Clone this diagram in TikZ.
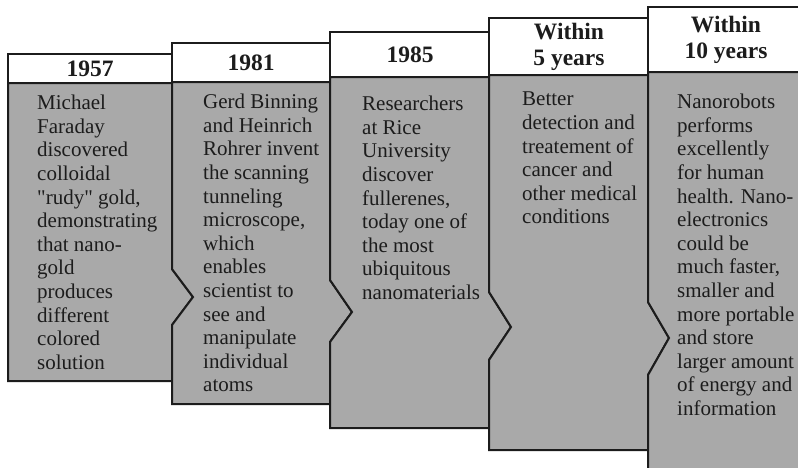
\documentclass[tikz,border=0pt]{standalone}
\usepackage{fontspec}
\setmainfont{Liberation Serif}[Ligatures=TeXOff]
\usepackage{tikz}
\usetikzlibrary{positioning}

\definecolor{boxgray}{HTML}{A9A9A9}
\definecolor{ink}{HTML}{1C1C1C}

\begin{document}
\begin{tikzpicture}[x=1pt, y=-1pt,
	col/.style={fill=boxgray, draw=ink, line width=2pt, line join=miter},
	head/.style={fill=white, draw=ink, line width=2pt},
	year/.style={font=\bfseries\fontsize{23.5}{26}\selectfont, text=ink, align=center, inner sep=0},
	txt/.style={font=\fontsize{21}{23.6}\selectfont, text=ink, align=left, inner sep=0, anchor=north west}]
	\useasboundingbox (0,0) rectangle (798,467);
	\clip (0,0) rectangle (798,467);
	% first column
	\draw[col] (8,83) -- (8,381) -- (172,381) -- (172,325) -- (193,297) -- (172,269) -- (172,83) -- cycle;
	\draw[head] (8,54) rectangle (172,83);
	% second column
	\draw[col] (172,82) -- (172,269) -- (193,297) -- (172,325) -- (172,404) -- (330,404)
		-- (330,342) -- (352,312) -- (330,280) -- (330,82) -- cycle;
	\draw[head] (172,43) rectangle (330,82);
	% third column
	\draw[col] (330,77) -- (330,280) -- (352,312) -- (330,342) -- (330,428) -- (489,428)
		-- (489,360) -- (511,327) -- (489,292) -- (489,77) -- cycle;
	\draw[head] (330,32) rectangle (489,77);
	% fourth column
	\draw[col] (489,75) -- (489,292) -- (511,327) -- (489,360) -- (489,450) -- (648,450)
		-- (648,375) -- (669,338) -- (648,302) -- (648,75) -- cycle;
	\draw[head] (489,18) rectangle (648,75);
	% last column runs off the page
	\draw[col] (648,72) -- (648,302) -- (669,338) -- (648,375) -- (648,480) -- (804,480)
		-- (804,72) -- cycle;
	\draw[head] (648,7) rectangle (804,72);

	\node[year] (h1) at (90,69) {1957};
	\node[year] (h2) at (251,63) {1981};
	\node[year] (h3) at (410,55) {1985};
	\node[year] (h4) at (569,47) {Within\\5 years};
	\node[year] (h5) at (726,40) {Within\\10 years};

	\node[txt] (t1) at (37,95) {Michael\\Faraday\\discovered\\colloidal\\"rudy" gold,\\demonstrating\\that nano-\\gold\\produces\\different\\colored\\solution};
	\node[txt] (t2) at (203,94) {Gerd Binning\\and Heinrich\\Rohrer invent\\the scanning\\tunneling\\microscope,\\which\\enables\\scientist to\\see and\\manipulate\\individual\\atoms};
	\node[txt] (t3) at (362,96) {Researchers\\at Rice\\University\\discover\\fullerenes,\\today one of\\the most\\ubiquitous\\nanomaterials};
	\node[txt] (t4) at (522,92) {Better\\detection and\\treatement of\\cancer and\\other medical\\conditions};
	\node[txt] (t5) at (677,94) {Nanorobots\\performs\\excellently\\for human\\health. Nano-\\electronics\\could be\\much faster,\\smaller and\\more portable\\and store\\larger amount\\of energy and\\information};
\end{tikzpicture}
\end{document}
